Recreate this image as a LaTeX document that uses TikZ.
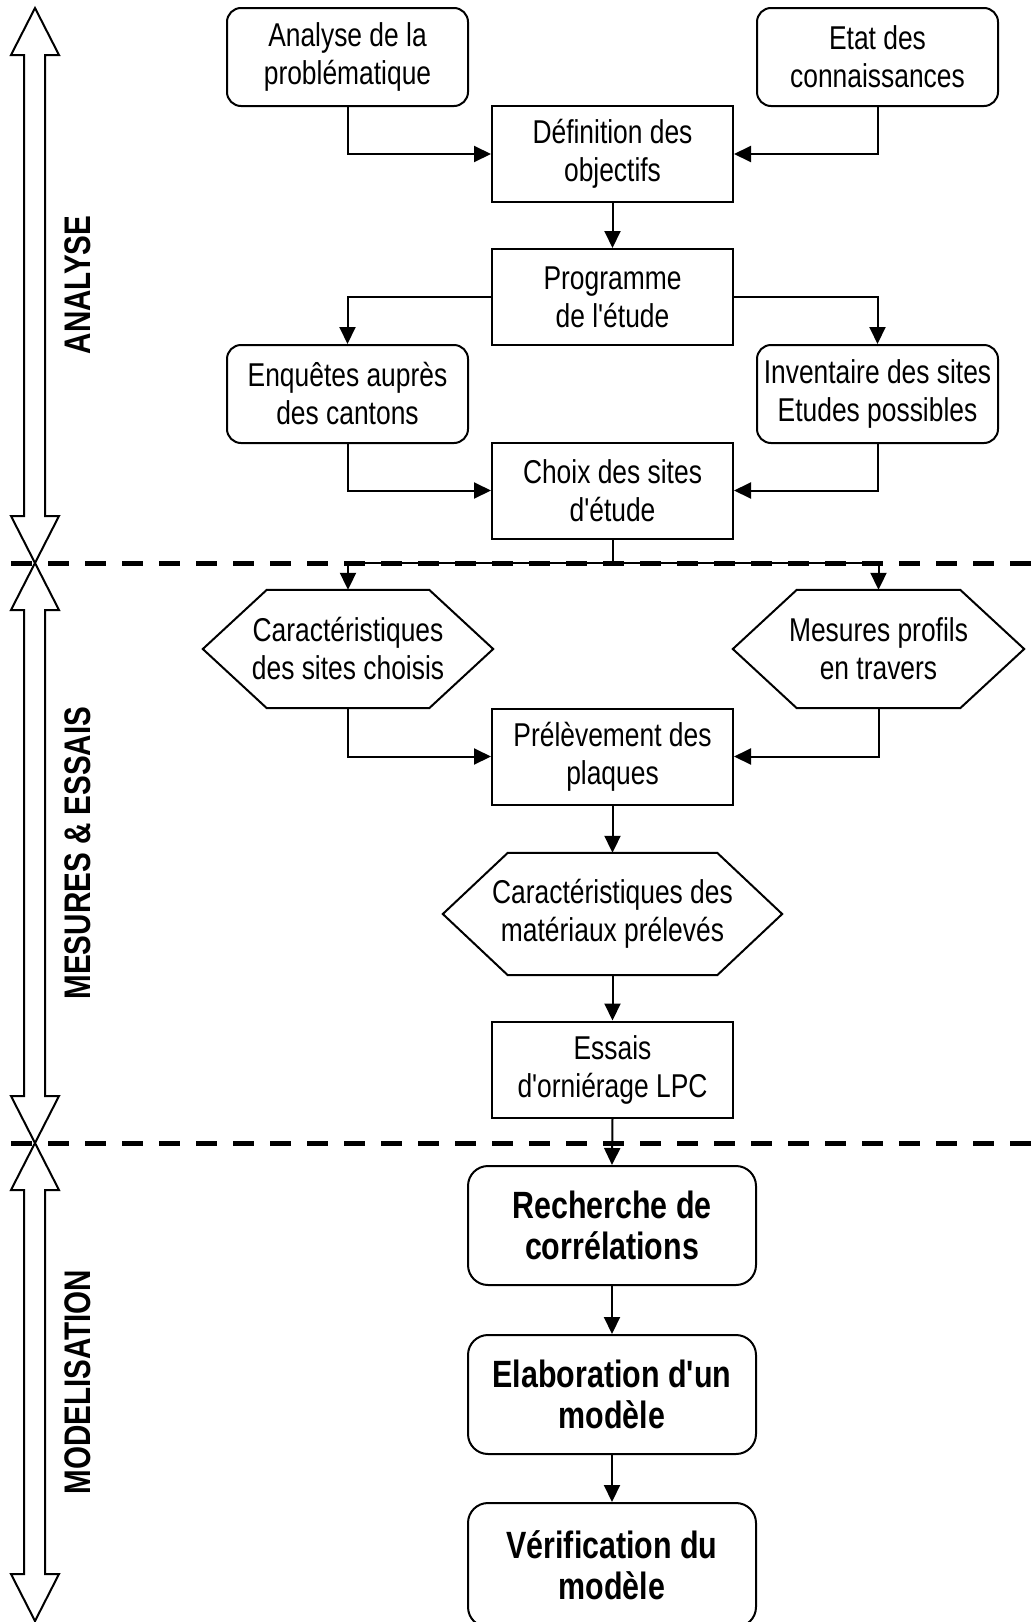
\documentclass[tikz,border=0pt]{standalone}
\usepackage{fontspec}
\setmainfont{Liberation Sans}[FakeStretch=0.8, Ligatures=TeXOff]
\usetikzlibrary{arrows.meta,calc}

% outline of a hexagon around an (undrawn) node: #1 node name, #2 horizontal indent
\newcommand\hexoutline[2]{%
  \draw[link] (#1.west) -- ([xshift=#2]#1.north west) -- ([xshift=-#2]#1.north east)
    -- (#1.east) -- ([xshift=-#2]#1.south east) -- ([xshift=#2]#1.south west) -- cycle;}

% double-headed hollow block arrow on the left margin, from y=#1 to y=#2
\newcommand\phasearrow[2]{%
  \draw[blockarrow] (35,#1) -- (59,{#1+47}) -- (45,{#1+47}) -- (45,{#2-47})
    -- (59,{#2-47}) -- (35,#2) -- (11,{#2-47}) -- (24,{#2-47}) -- (24,{#1+47})
    -- (11,{#1+47}) -- cycle;}

\begin{document}
\begin{tikzpicture}[x=1pt,y=-1pt,
  every node/.style={inner sep=0pt, align=center},
  txt/.style={font=\fontsize{33}{38}\selectfont},
  bold/.style={font=\fontsize{38}{41}\selectfont\bfseries},
  rbox/.style={txt, draw, line width=2pt, rounded corners=14pt,
    minimum width=241pt, minimum height=98pt},
  sbox/.style={txt, draw, line width=2pt, minimum width=241pt, minimum height=96pt},
  bbox/.style={bold, draw, line width=2pt, rounded corners=20pt,
    minimum width=288pt, minimum height=119pt},
  hexnode/.style={txt, minimum height=118pt},
  link/.style={line width=2pt},
  flow/.style={link, -{Triangle[length=17pt,width=16pt]}},
  sep/.style={line width=5pt, dash pattern=on 21pt off 16pt},
  side/.style={font=\fontsize{37}{40}\selectfont\bfseries, rotate=90},
  blockarrow/.style={line width=2pt, fill=white, line join=miter}
]
\useasboundingbox (0,0) rectangle (1034,1622);
\clip (0,0) rectangle (1034,1622);

% phase arrows and labels
\phasearrow{8}{563}
\phasearrow{563}{1143}
\phasearrow{1143}{1621}
\node[side] (lab1) at (78,285) {ANALYSE};
\node[side] (lab2) at (78,853) {MESURES \& ESSAIS};
\node[side] (lab3) at (78,1382) {MODELISATION};

% phase separators
\coordinate (d1a) at (11,563);
\coordinate (d1b) at (1034,563);
\coordinate (d2a) at (11,1143);
\coordinate (d2b) at (1034,1143);
\draw[sep] (d1a) -- (d1b);
\draw[sep] (d2a) -- (d2b);

% analysis phase
\node[rbox] (ana) at (347.5,57) {Analyse de la\\problématique};
\node[rbox] (etat) at (877.5,57) {Etat des\\connaissances};
\node[sbox] (def) at (612.5,154) {Définition des\\objectifs};
\node[sbox] (prog) at (612.5,297) {Programme\\de l'étude};
\node[rbox] (enq) at (347.5,394) {Enquêtes auprès\\des cantons};
\node[rbox] (inv) at (877.5,394) {Inventaire des sites\\Etudes possibles};
\node[sbox] (choix) at (612.5,490.5) {Choix des sites\\d'étude};

% measurement phase
\node[hexnode, minimum width=290pt] (hexA) at (348,649) {Caractéristiques\\des sites choisis};
\hexoutline{hexA}{64pt}
\node[hexnode, minimum width=291pt] (hexB) at (878.5,649) {Mesures profils\\en travers};
\hexoutline{hexB}{64pt}
\node[sbox] (prel) at (612.5,756.5) {Prélèvement des\\plaques};
\node[hexnode, minimum width=339pt, minimum height=122pt] (hexM) at (612.5,914)
  {Caractéristiques des\\matériaux prélevés};
\hexoutline{hexM}{65pt}
\node[sbox] (ess) at (612.5,1069.5) {Essais\\d'orniérage LPC};

% modelling phase
\node[bbox] (rech) at (612,1225.5) {Recherche de\\corrélations};
\node[bbox] (elab) at (612,1394.5) {Elaboration d'un\\modèle};
\node[bbox, minimum height=124pt] (verif) at (612,1565) {Vérification du\\modèle};

% connectors
\draw[flow] (ana.south) |- (def.west);
\draw[flow] (etat.south) |- (def.east);
\draw[flow] (def.south) -- (prog.north);
\draw[flow] (prog.west) -| (enq.north);
\draw[flow] (prog.east) -| (inv.north);
\draw[flow] (enq.south) |- (choix.west);
\draw[flow] (inv.south) |- (choix.east);
\coordinate (j1) at (612.5,563);
\draw[link] (choix.south) -- (j1);
\draw[flow] (j1) -| (hexA.north);
\draw[flow] (j1) -| (hexB.north);
\draw[flow] (hexA.south) |- (prel.west);
\draw[flow] (hexB.south) |- (prel.east);
\draw[flow] (prel.south) -- (hexM.north);
\draw[flow] (hexM.south) -- (ess.north);
\draw[flow] (ess.south) -- (rech.north);
\draw[flow] (rech.south) -- (elab.north);
\draw[flow] (elab.south) -- (verif.north);
\end{tikzpicture}
\end{document}
